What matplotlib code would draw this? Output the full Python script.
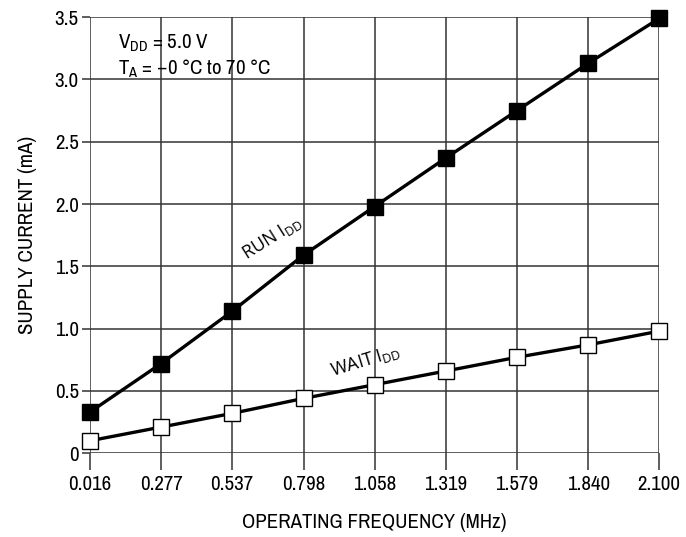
import matplotlib
matplotlib.use("Agg")
import matplotlib.pyplot as plt

# operating frequency (MHz) and supply currents (mA)
freq = [0.016, 0.277, 0.537, 0.798, 1.058, 1.319, 1.579, 1.840, 2.100]
freq_labels = ["0.016", "0.277", "0.537", "0.798", "1.058", "1.319", "1.579", "1.840", "2.100"]
run_idd = [0.33, 0.72, 1.14, 1.59, 1.98, 2.37, 2.75, 3.13, 3.49]
wait_idd = [0.10, 0.21, 0.32, 0.44, 0.55, 0.66, 0.77, 0.87, 0.98]
y_ticks = [0, 0.5, 1.0, 1.5, 2.0, 2.5, 3.0, 3.5]
y_labels = ["0", "0.5", "1.0", "1.5", "2.0", "2.5", "3.0", "3.5"]

plt.rcParams["font.family"] = ["Archivo Narrow", "Liberation Sans", "DejaVu Sans"]

fig = plt.figure(figsize=(6.86, 5.37), dpi=100)
ax = fig.add_axes([0.131, 0.156, 0.830, 0.812])

ax.plot(freq, run_idd, color="black", lw=2.4, marker="s", ms=11.5,
        mfc="black", mec="black", zorder=3, clip_on=False)
ax.plot(freq, wait_idd, color="black", lw=2.4, marker="s", ms=11.5,
        mfc="white", mec="black", mew=1.0, zorder=3, clip_on=False)

ax.set_xlim(freq[0], freq[-1])
ax.set_ylim(0, 3.5)
ax.set_xticks(freq)
ax.set_xticklabels(freq_labels)
ax.set_yticks(y_ticks)
ax.set_yticklabels(y_labels)
ax.grid(True, color="#333333", lw=1.1)
ax.set_axisbelow(True)
for s in ax.spines.values():
    s.set_visible(False)
ax.tick_params(axis="x", length=12, width=1.1, color="#333333", labelsize=15, pad=4)
ax.tick_params(axis="y", length=6, width=1.1, color="#333333", labelsize=15, pad=2)

ax.set_xlabel("OPERATING FREQUENCY (MHz)", fontsize=15, labelpad=13)
ax.set_ylabel("SUPPLY CURRENT (mA)", fontsize=15, labelpad=13)

ax.text(0.12, 3.29, r"V$_{\mathregular{DD}}$ = 5.0 V", fontsize=15, va="center")
ax.text(0.12, 3.09, r"T$_{\mathregular{A}}$ = –0 °C to 70 °C", fontsize=15, va="center")

# curve labels
ax.text(0.683, 1.73, r"RUN I$_{\mathregular{DD}}$", fontsize=13, rotation=32,
        ha="center", va="center", family=["Open Sans", "DejaVu Sans"])
ax.text(1.027, 0.74, r"WAIT I$_{\mathregular{DD}}$", fontsize=13, rotation=17,
        ha="center", va="center", family=["Open Sans", "DejaVu Sans"])

fig.savefig("out.png", dpi=100)
